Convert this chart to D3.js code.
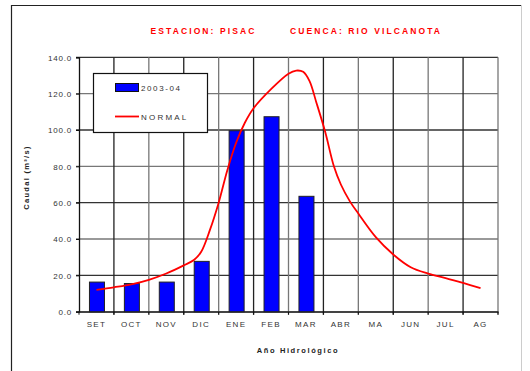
<!DOCTYPE html>
<html><head><meta charset="utf-8">
<script src="https://cdn.jsdelivr.net/npm/d3@7"></script>
<style>
html,body{margin:0;padding:0;background:#fff;}
svg{display:block;font-family:"Liberation Sans",Arial,sans-serif;}
</style></head>
<body>
<script>
const months = ["SET","OCT","NOV","DIC","ENE","FEB","MAR","ABR","MA","JUN","JUL","AG"];
const bars2003 = [16.3, 15.5, 16.3, 27.7, 99.6, 107.3, 63.5, null, null, null, null, null];
// NORMAL curve: position in months (0 = SET) and caudal
const normalPos = [0, 0.5, 1, 1.5, 2, 2.5, 2.8, 3, 3.25, 3.5, 3.75, 4, 4.25, 4.5, 5, 5.5, 5.72, 5.92, 6.1, 6.3, 6.55, 6.8, 7, 7.25, 7.5, 8, 8.5, 9, 9.5, 10, 10.5, 11];
const normalVal = [12, 13.4, 15, 17.5, 21, 25.5, 28.6, 33, 45, 60, 78, 93, 104, 112, 122.5, 131, 132.7, 132, 127, 115, 99, 80, 70, 61, 54, 41, 31.5, 24.5, 21, 18.5, 15.8, 13];
const yTicks = [0, 20, 40, 60, 80, 100, 120, 140];
const titleLeft = "ESTACION: PISAC";
const titleRight = "CUENCA: RIO VILCANOTA";
const legendLabels = ["2003-04", "NORMAL"];

const W = 530, H = 371;
const svg = d3.select("body").append("svg").attr("width", W).attr("height", H);

// outer frame
svg.append("line").attr("x1", 11.5).attr("x2", 11.5).attr("y1", 5).attr("y2", H).attr("stroke", "#222").attr("stroke-width", 1.2);
svg.append("line").attr("x1", 11).attr("x2", 521).attr("y1", 5.5).attr("y2", 5.5).attr("stroke", "#222").attr("stroke-width", 1.2);
svg.append("line").attr("x1", 521.5).attr("x2", 521.5).attr("y1", 5).attr("y2", H).attr("stroke", "#ccc").attr("stroke-width", 1);

const x0 = 79, x1 = 498, yTop = 57.3, yBot = 311.7;
const x = d3.scaleBand().domain(months).range([x0, x1]).paddingInner(0).paddingOuter(0);
const xl = d3.scaleLinear().domain([0, 11]).range([x0 + x.bandwidth()/2, x0 + x.bandwidth()*11.5]);
const y = d3.scaleLinear().domain([0, 140]).range([yBot, yTop]);

// gridlines
const g = svg.append("g");
yTicks.forEach((t, i) => {
  g.append("line").attr("x1", x0 - 3).attr("x2", x1).attr("y1", y(t)).attr("y2", y(t))
    .attr("stroke", i % 2 ? "#333" : "#777").attr("stroke-width", 1.3);
});
months.forEach((m, i) => {
  const xx = x(m) + (i === 0 ? 0 : 0);
  if (i > 0) g.append("line").attr("x1", xx).attr("x2", xx).attr("y1", yTop).attr("y2", yBot + 3)
    .attr("stroke", i % 2 ? "#222" : "#777").attr("stroke-width", 1.3);
});
g.append("line").attr("x1", x1).attr("x2", x1).attr("y1", yTop).attr("y2", yBot + 3).attr("stroke", "#777").attr("stroke-width", 1.3);

// axes
const yAxis = d3.axisLeft(y).tickValues(yTicks).tickSize(3).tickFormat(d3.format(".1f"));
const ya = svg.append("g").attr("transform", `translate(${x0},0)`).call(yAxis);
ya.select(".domain").attr("stroke", "#111").attr("stroke-width", 1.3);
ya.selectAll(".tick line").attr("stroke", "#111");
ya.selectAll("text").attr("fill", "#333").attr("font-size", 8).attr("letter-spacing", 0.8).attr("x", -7).attr("dy", "0.35em");

const xAxis = d3.axisBottom(x).tickSize(0);
const xa = svg.append("g").attr("transform", `translate(0,${yBot})`).call(xAxis);
xa.select(".domain").attr("stroke", "#111").attr("stroke-width", 1.3);
xa.selectAll("text").attr("fill", "#333").attr("font-size", 8).attr("letter-spacing", 1.3).attr("y", 10).attr("dy", "0.71em");
months.forEach(m => {
  svg.append("line").attr("x1", x(m)).attr("x2", x(m)).attr("y1", yBot).attr("y2", yBot + 3).attr("stroke", "#111");
});
svg.append("line").attr("x1", x1).attr("x2", x1).attr("y1", yBot).attr("y2", yBot + 3).attr("stroke", "#111");

// bars
const bw = 15;
svg.append("g").selectAll("rect").data(months.map((m, i) => ({m, v: bars2003[i]})).filter(d => d.v != null))
  .join("rect")
  .attr("x", d => x(d.m) + x.bandwidth()/2 - bw/2 + 0.5)
  .attr("y", d => y(d.v))
  .attr("width", bw)
  .attr("height", d => y(0) - y(d.v))
  .attr("fill", "#0000ff").attr("stroke", "#222").attr("stroke-width", 1);

// normal line
const line = d3.line().x(d => xl(d[0])).y(d => y(d[1])).curve(d3.curveCatmullRom.alpha(0.5));
svg.append("path").datum(normalPos.map((p, i) => [p, normalVal[i]]))
  .attr("d", line).attr("fill", "none").attr("stroke", "#ff0000").attr("stroke-width", 1.8);

// legend
const lg = svg.append("g");
lg.append("rect").attr("x", 93.5).attr("y", 73.5).attr("width", 114).attr("height", 59)
  .attr("fill", "#fff").attr("stroke", "#111").attr("stroke-width", 1.2);
lg.append("rect").attr("x", 115.5).attr("y", 83.5).attr("width", 23).attr("height", 8)
  .attr("fill", "#0000ff").attr("stroke", "#111").attr("stroke-width", 1);
lg.append("text").attr("x", 141).attr("y", 90.5).text(legendLabels[0])
  .attr("font-size", 8).attr("letter-spacing", 1.6).attr("fill", "#333");
lg.append("line").attr("x1", 115).attr("x2", 139).attr("y1", 116.5).attr("y2", 116.5)
  .attr("stroke", "#ff0000").attr("stroke-width", 1.8);
lg.append("text").attr("x", 141).attr("y", 119.5).text(legendLabels[1])
  .attr("font-size", 8).attr("letter-spacing", 2.2).attr("fill", "#333");

// titles
svg.append("text").attr("x", 150.5).attr("y", 33.5).text(titleLeft)
  .attr("font-size", 8.5).attr("font-weight", "bold").attr("letter-spacing", 2.1).attr("fill", "#ff0000");
svg.append("text").attr("x", 290).attr("y", 33.5).text(titleRight)
  .attr("font-size", 8.5).attr("font-weight", "bold").attr("letter-spacing", 2.1).attr("fill", "#ff0000");

svg.append("text").attr("x", 298).attr("y", 353).attr("text-anchor", "middle").text("Año Hidrológico")
  .attr("font-size", 7.5).attr("font-weight", "bold").attr("letter-spacing", 1.6).attr("fill", "#222");
svg.append("text").attr("transform", "translate(29,177.5) rotate(-90)").attr("text-anchor", "middle")
  .text("Caudal (m³/s)").attr("font-size", 7.5).attr("font-weight", "bold").attr("letter-spacing", 1.3).attr("fill", "#222");
</script>
</body></html>
